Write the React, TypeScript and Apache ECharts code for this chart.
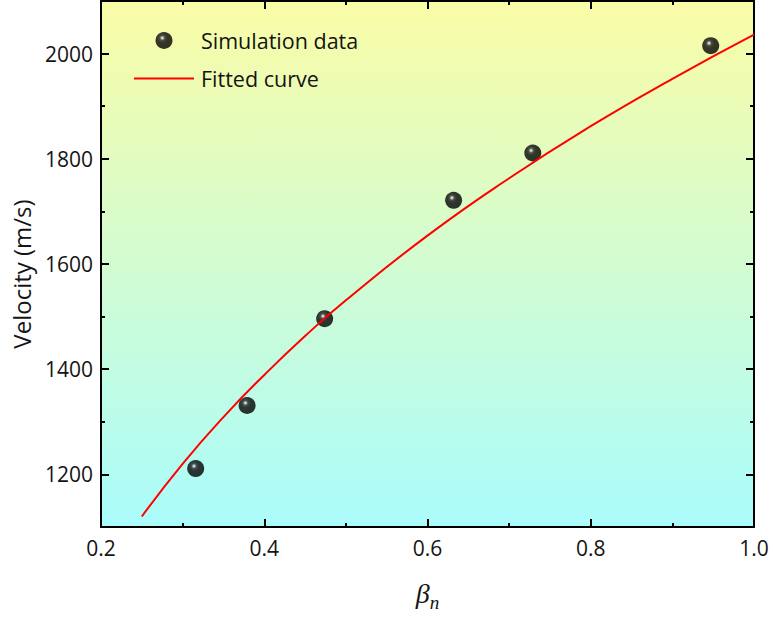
import React, { useEffect, useRef } from 'react';
import * as echarts from 'echarts';

// Simulated detonation velocity versus beta_n
const betaValues = [0.316, 0.379, 0.474, 0.632, 0.729, 0.947];
const velocityValues = [1211, 1331, 1496, 1721, 1811, 2015];

// Fitted curve sampled along beta_n
const fitBeta = [0.25, 0.3, 0.35, 0.4, 0.45, 0.5, 0.6, 0.7, 0.8, 0.9, 1.0];
const fitVelocity = [1120, 1220, 1309, 1389, 1463, 1531, 1654, 1763, 1862, 1952, 2036];

const seriesNames = ['Simulation data', 'Fitted curve'];
const yMajorTicks = [1200, 1400, 1600, 1800, 2000];
const yMinorTicks = [1300, 1500, 1700, 1900];

const FONT = 'Open Sans';
const INK = '#141414';

export default function App() {
  const ref = useRef<HTMLDivElement>(null);

  useEffect(() => {
    if (!ref.current) return;
    const chart = echarts.init(ref.current, null, { renderer: 'svg' });

    const tickLine = { color: '#000', width: 2 };
    const xCommon = {
      type: 'value' as const,
      min: 0.2,
      max: 1.0,
      interval: 0.2,
      splitLine: { show: false },
      axisLine: { show: true, onZero: false, lineStyle: tickLine },
      axisTick: { show: true, inside: true, length: 8, lineStyle: tickLine },
      minorTick: { show: true, splitNumber: 2, length: 4, lineStyle: tickLine },
    };
    const yBase = {
      type: 'value' as const,
      min: 1100,
      max: 2100,
      splitLine: { show: false },
    };

    // glossy black sphere marker
    const sphere = new echarts.graphic.RadialGradient(0.4, 0.35, 0.65, [
      { offset: 0, color: '#ffffff' },
      { offset: 0.07, color: '#c8c8c8' },
      { offset: 0.22, color: '#262626' },
      { offset: 0.45, color: '#040404' },
      { offset: 1, color: '#000000' },
    ]);

    chart.setOption({
      animation: false,
      grid: {
        left: 101,
        right: 19,
        top: 1,
        bottom: 90,
        show: true,
        borderWidth: 0,
        backgroundColor: new echarts.graphic.LinearGradient(0, 0, 0, 1, [
          { offset: 0, color: '#fafca6' },
          { offset: 1, color: '#aafcfc' },
        ]),
      },
      legend: {
        orient: 'vertical',
        left: 133,
        top: 29.5,
        padding: 0,
        itemWidth: 60,
        itemHeight: 17,
        itemGap: 16,
        data: [
          { name: seriesNames[0] },
          { name: seriesNames[1], itemStyle: { opacity: 0 } },
        ],
        textStyle: { fontFamily: FONT, fontSize: 21.5, color: INK, padding: [0, 0, 0, 2] },
      },
      xAxis: [
        {
          ...xCommon,
          position: 'bottom',
          axisLabel: {
            show: true,
            margin: 10,
            fontFamily: FONT,
            fontSize: 21,
            color: INK,
            formatter: (v: number) => v.toFixed(1),
          },
          name: '{b|β}{s|n}',
          nameLocation: 'middle',
          nameGap: 48,
          nameTextStyle: {
            rich: {
              b: { fontFamily: 'Liberation Serif', fontStyle: 'italic', fontSize: 28, color: INK },
              s: {
                fontFamily: 'Liberation Serif',
                fontStyle: 'italic',
                fontSize: 19,
                padding: [18, 0, 0, 0],
                color: INK,
              },
            },
          },
        },
        {
          ...xCommon,
          position: 'top',
          axisLabel: { show: false },
        },
      ],
      yAxis: [
        {
          ...yBase,
          position: 'left',
          axisLine: { show: true, onZero: false, lineStyle: tickLine },
          axisTick: { show: true, inside: true, length: 8, lineStyle: tickLine, customValues: yMajorTicks },
          axisLabel: {
            show: true,
            margin: 8,
            fontFamily: FONT,
            fontSize: 21,
            color: INK,
            customValues: yMajorTicks,
            formatter: (v: number) => String(v),
          },
          name: 'Velocity (m/s)',
          nameLocation: 'middle',
          nameRotate: 90,
          nameGap: 68,
          nameTextStyle: { fontFamily: FONT, fontSize: 24, color: INK, padding: [0, 20, 0, 0] },
        },
        {
          ...yBase,
          position: 'left',
          axisLine: { show: false },
          axisTick: { show: true, inside: true, length: 4, lineStyle: tickLine, customValues: yMinorTicks },
          axisLabel: { show: false },
        },
        {
          ...yBase,
          position: 'right',
          axisLine: { show: true, onZero: false, lineStyle: tickLine },
          axisTick: { show: true, inside: true, length: 8, lineStyle: tickLine, customValues: yMajorTicks },
          axisLabel: { show: false },
        },
        {
          ...yBase,
          position: 'right',
          axisLine: { show: false },
          axisTick: { show: true, inside: true, length: 4, lineStyle: tickLine, customValues: yMinorTicks },
          axisLabel: { show: false },
        },
      ],
      series: [
        {
          name: seriesNames[0],
          type: 'scatter',
          xAxisIndex: 0,
          yAxisIndex: 0,
          symbol: 'circle',
          symbolSize: 17,
          symbolKeepAspect: true,
          itemStyle: { color: sphere },
          data: betaValues.map((b, i) => [b, velocityValues[i]]),
          z: 2,
        },
        {
          name: seriesNames[1],
          type: 'line',
          xAxisIndex: 0,
          yAxisIndex: 0,
          symbol: 'none',
          smooth: true,
          lineStyle: { color: '#ff0000', width: 2 },
          itemStyle: { color: '#ff0000' },
          data: fitBeta.map((b, i) => [b, fitVelocity[i]]),
          z: 3,
        },
      ],
    });

    return () => chart.dispose();
  }, []);

  return (
    <div
      ref={ref}
      style={{ position: 'absolute', left: 0, top: 0, width: 773, height: 617, background: '#fff' }}
    />
  );
}
